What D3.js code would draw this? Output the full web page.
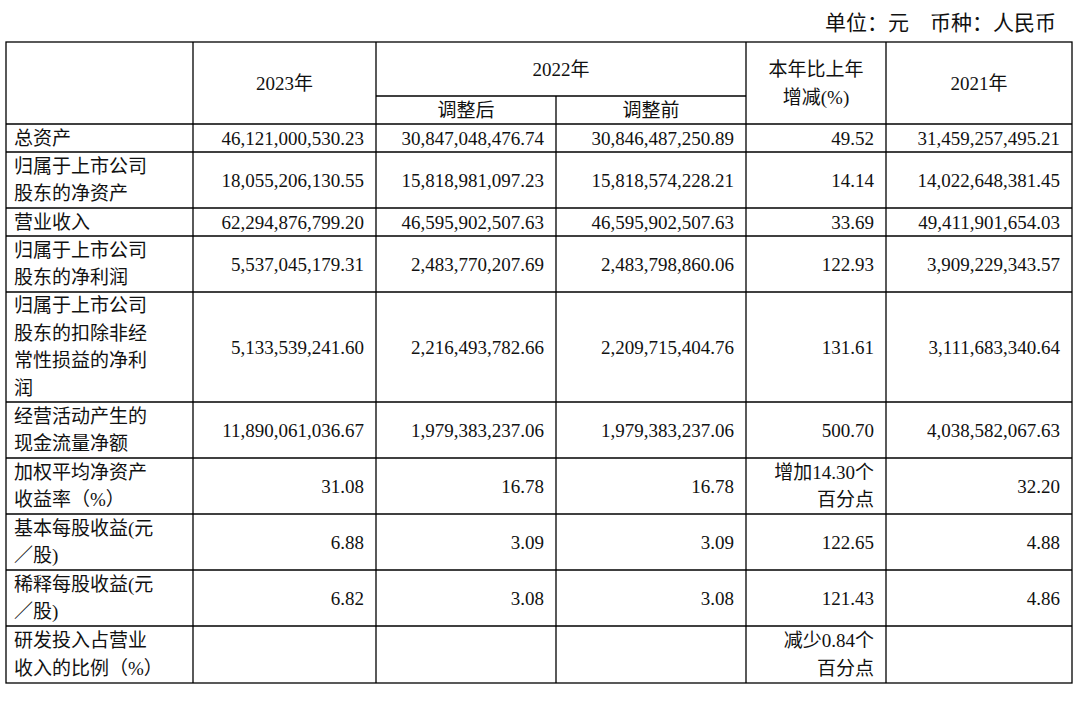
<!DOCTYPE html>
<html><head><meta charset="utf-8">
<script src="https://cdn.jsdelivr.net/npm/d3@7"></script>
<style>body{margin:0;background:#fff}text{fill:#111}</style>
</head><body>
<svg id="c" width="1080" height="701"></svg>
<script>
// table content
const rowLabels = [
  ["总资产"],
  ["归属于上市公司", "股东的净资产"],
  ["营业收入"],
  ["归属于上市公司", "股东的净利润"],
  ["归属于上市公司", "股东的扣除非经", "常性损益的净利", "润"],
  ["经营活动产生的", "现金流量净额"],
  ["加权平均净资产", "收益率（%）"],
  ["基本每股收益(元", "／股)"],
  ["稀释每股收益(元", "／股)"],
  ["研发投入占营业", "收入的比例（%）"]
];
const col2023 = ["46,121,000,530.23", "18,055,206,130.55", "62,294,876,799.20", "5,537,045,179.31", "5,133,539,241.60", "11,890,061,036.67", "31.08", "6.88", "6.82", ""];
const col2022adj = ["30,847,048,476.74", "15,818,981,097.23", "46,595,902,507.63", "2,483,770,207.69", "2,216,493,782.66", "1,979,383,237.06", "16.78", "3.09", "3.08", ""];
const col2022pre = ["30,846,487,250.89", "15,818,574,228.21", "46,595,902,507.63", "2,483,798,860.06", "2,209,715,404.76", "1,979,383,237.06", "16.78", "3.09", "3.08", ""];
const colChange = [["49.52"], ["14.14"], ["33.69"], ["122.93"], ["131.61"], ["500.70"], ["增加14.30个", "百分点"], ["122.65"], ["121.43"], ["减少0.84个", "百分点"]];
const col2021 = ["31,459,257,495.21", "14,022,648,381.45", "49,411,901,654.03", "3,909,229,343.57", "3,111,683,340.64", "4,038,582,067.63", "32.20", "4.88", "4.86", ""];

const colEdges = [6, 193, 376, 556, 746, 886, 1072];
const rowEdges = [124, 152, 208, 236, 292, 402, 458, 514, 570, 626, 683];
const tableTop = 42, subY = 96;
const lineH = 27.5;
const font = "'Liberation Serif','Noto Sans CJK SC',serif";

const svg = d3.select("#c");
const x = i => colEdges[i];
const y = d3.scaleOrdinal().domain(d3.range(rowLabels.length + 1)).range(rowEdges);

svg.append("text").attr("x", 1056).attr("y", 30).attr("text-anchor", "end")
  .style("font-family", font).style("font-size", "21px").text("单位：元　币种：人民币");

const g = svg.append("g").attr("stroke", "#000").attr("stroke-width", 1.3);
g.append("rect").attr("x", x(0)).attr("y", tableTop).attr("width", x(6) - x(0)).attr("height", rowEdges[10] - tableTop).attr("fill", "none");
colEdges.slice(1, 6).forEach((cx, i) => {
  g.append("line").attr("x1", cx).attr("x2", cx).attr("y1", i === 2 ? subY : tableTop).attr("y2", rowEdges[10]);
});
g.append("line").attr("x1", x(2)).attr("x2", x(4)).attr("y1", subY).attr("y2", subY);
rowEdges.slice(0, 10).forEach(ry => g.append("line").attr("x1", x(0)).attr("x2", x(6)).attr("y1", ry).attr("y2", ry));

function txt(tx, ty, s, anchor) {
  svg.append("text").attr("x", tx).attr("y", ty).attr("text-anchor", anchor || "start")
    .attr("dominant-baseline", "central").style("font-family", font).style("font-size", "19px").text(s);
}
// header
txt((x(1) + x(2)) / 2, 83, "2023年", "middle");
txt((x(2) + x(4)) / 2, 69, "2022年", "middle");
txt((x(2) + x(3)) / 2, 110, "调整后", "middle");
txt((x(3) + x(4)) / 2, 110, "调整前", "middle");
txt((x(4) + x(5)) / 2, 69, "本年比上年", "middle");
txt((x(4) + x(5)) / 2, 97, "增减(%)", "middle");
txt((x(5) + x(6)) / 2, 83, "2021年", "middle");

const pad = 12;
rowLabels.forEach((lab, r) => {
  const mid = (y(r) + y(r + 1)) / 2;
  lab.forEach((s, k) => txt(x(0) + 8, mid + (k - (lab.length - 1) / 2) * lineH, s));
  [col2023, col2022adj, col2022pre].forEach((col, c) => txt(x(c + 2) - pad, mid, col[r], "end"));
  const ch = colChange[r];
  ch.forEach((s, k) => txt(x(5) - pad, mid + (k - (ch.length - 1) / 2) * lineH, s, "end"));
  txt(x(6) - pad, mid, col2021[r], "end");
});
</script>
</body></html>
